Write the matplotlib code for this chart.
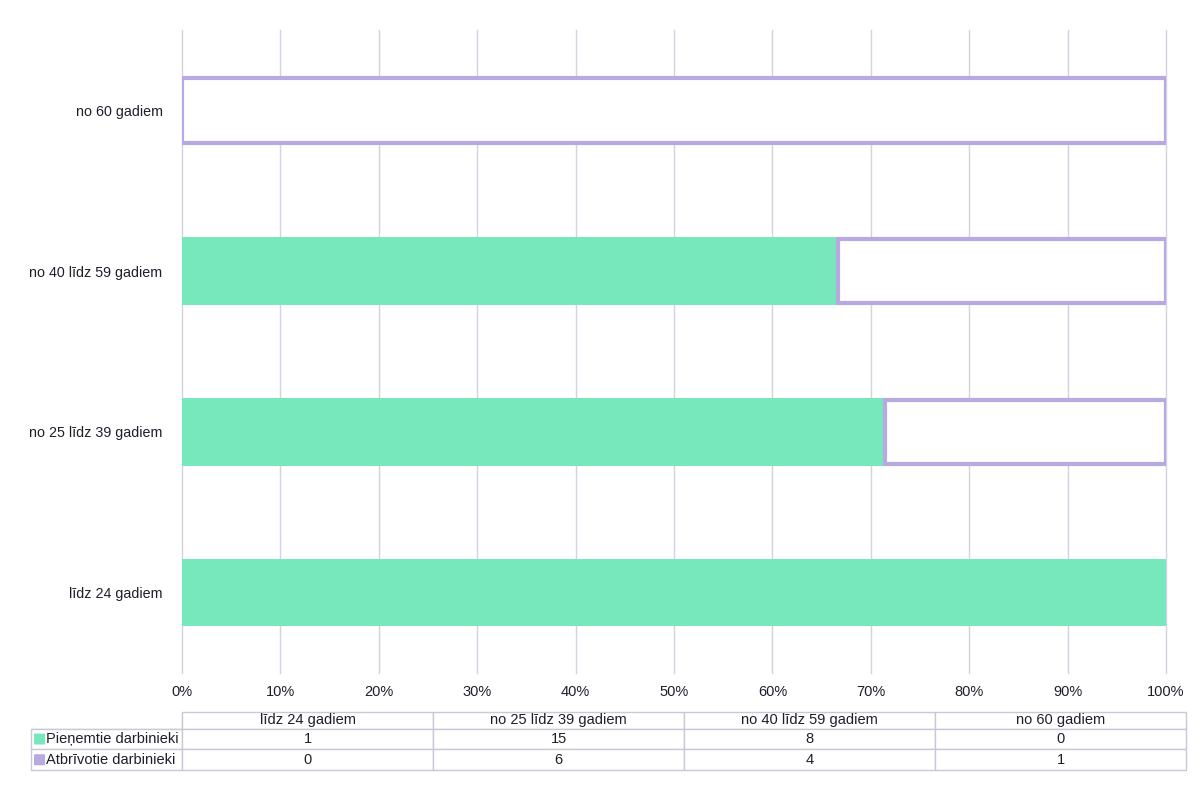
import matplotlib.pyplot as plt
from matplotlib.patches import FancyBboxPatch
import numpy as np

plt.rcParams['font.family'] = ['Liberation Sans', 'DejaVu Sans']

# dati
vecuma_grupas = ['līdz 24 gadiem', 'no 25 līdz 39 gadiem', 'no 40 līdz 59 gadiem', 'no 60 gadiem']
pienemtie = [1, 15, 8, 0]
atbrivotie = [0, 6, 4, 1]
serijas = ['Pieņemtie darbinieki', 'Atbrīvotie darbinieki']
x_ticks = [0, 10, 20, 30, 40, 50, 60, 70, 80, 90, 100]

zals = '#77e8bb'
violets = '#b8a9e2'
teksts = '#1e1e2a'

p = np.array(pienemtie, dtype=float)
a = np.array(atbrivotie, dtype=float)
kopa = p + a
p_proc = p / kopa * 100
a_proc = a / kopa * 100

fig = plt.figure(figsize=(12, 7.91), dpi=100)
ax = fig.add_axes([182 / 1200, 1 - 673 / 791, 984 / 1200, 643 / 791])

y = np.arange(len(vecuma_grupas))
ax.barh(y, p_proc, height=0.42, color=zals, linewidth=0, zorder=3)
# atbrīvotie - tikai kontūra
for i in range(len(y)):
    if a_proc[i] > 0:
        ax.barh(y[i], a_proc[i], left=p_proc[i], height=0.40, facecolor='white',
                edgecolor=violets, linewidth=3, zorder=3)

ax.set_xlim(0, 100)
ax.set_ylim(-0.5, 3.5)
ax.set_xticks(x_ticks)
ax.set_xticklabels([f'{t}%' for t in x_ticks], fontsize=10.5, color=teksts)
ax.set_yticks(y)
ax.set_yticklabels(vecuma_grupas, fontsize=10.3, color=teksts)
ax.tick_params(length=0)
ax.tick_params(axis='y', pad=14)
ax.tick_params(axis='x', pad=9)
ax.grid(axis='x', color='#d2d2e0', linewidth=1, zorder=0)
for gl in ax.get_xgridlines():
    gl.set_clip_on(False)
for s in ax.spines.values():
    s.set_visible(False)

# tabula zem grafika
tab_ax = fig.add_axes([31 / 1200, 1 - 770 / 791, (1186 - 31) / 1200, 58 / 791])
tab_ax.axis('off')
cell_text = [[''] + vecuma_grupas,
             [serijas[0]] + [str(v) for v in pienemtie],
             [serijas[1]] + [str(v) for v in atbrivotie]]
col_w = [151 / 1155] + [251 / 1155] * 4
tab = tab_ax.table(cellText=cell_text, colWidths=col_w, cellLoc='center',
                   bbox=[0, 0, 1, 1])
tab.auto_set_font_size(False)
tab.set_fontsize(10.5)
for (r, c), cell in tab.get_celld().items():
    cell.set_edgecolor('#c8c8d8')
    cell.set_linewidth(1)
    cell.get_text().set_color(teksts)
    cell.set_height(0.293 if r == 0 else 0.3535)
    if c == 0:
        cell.get_text().set_ha('left')
        cell._loc = 'left'
        cell.PAD = 0.1
tab.get_celld()[(0, 0)].visible_edges = 'BR'

# krāsu kvadrātiņi pie rindu nosaukumiem
for yc, kr in zip([0.534, 0.177], [zals, violets]):
    tab_ax.add_patch(FancyBboxPatch((3 / 1155, yc - 5.5 / 58), 11 / 1155, 11 / 58,
                                    boxstyle='round,pad=0,rounding_size=0.002',
                                    transform=tab_ax.transAxes, facecolor=kr,
                                    edgecolor='none', zorder=5, clip_on=False))

fig.savefig('out.png', dpi=100, facecolor='white')
